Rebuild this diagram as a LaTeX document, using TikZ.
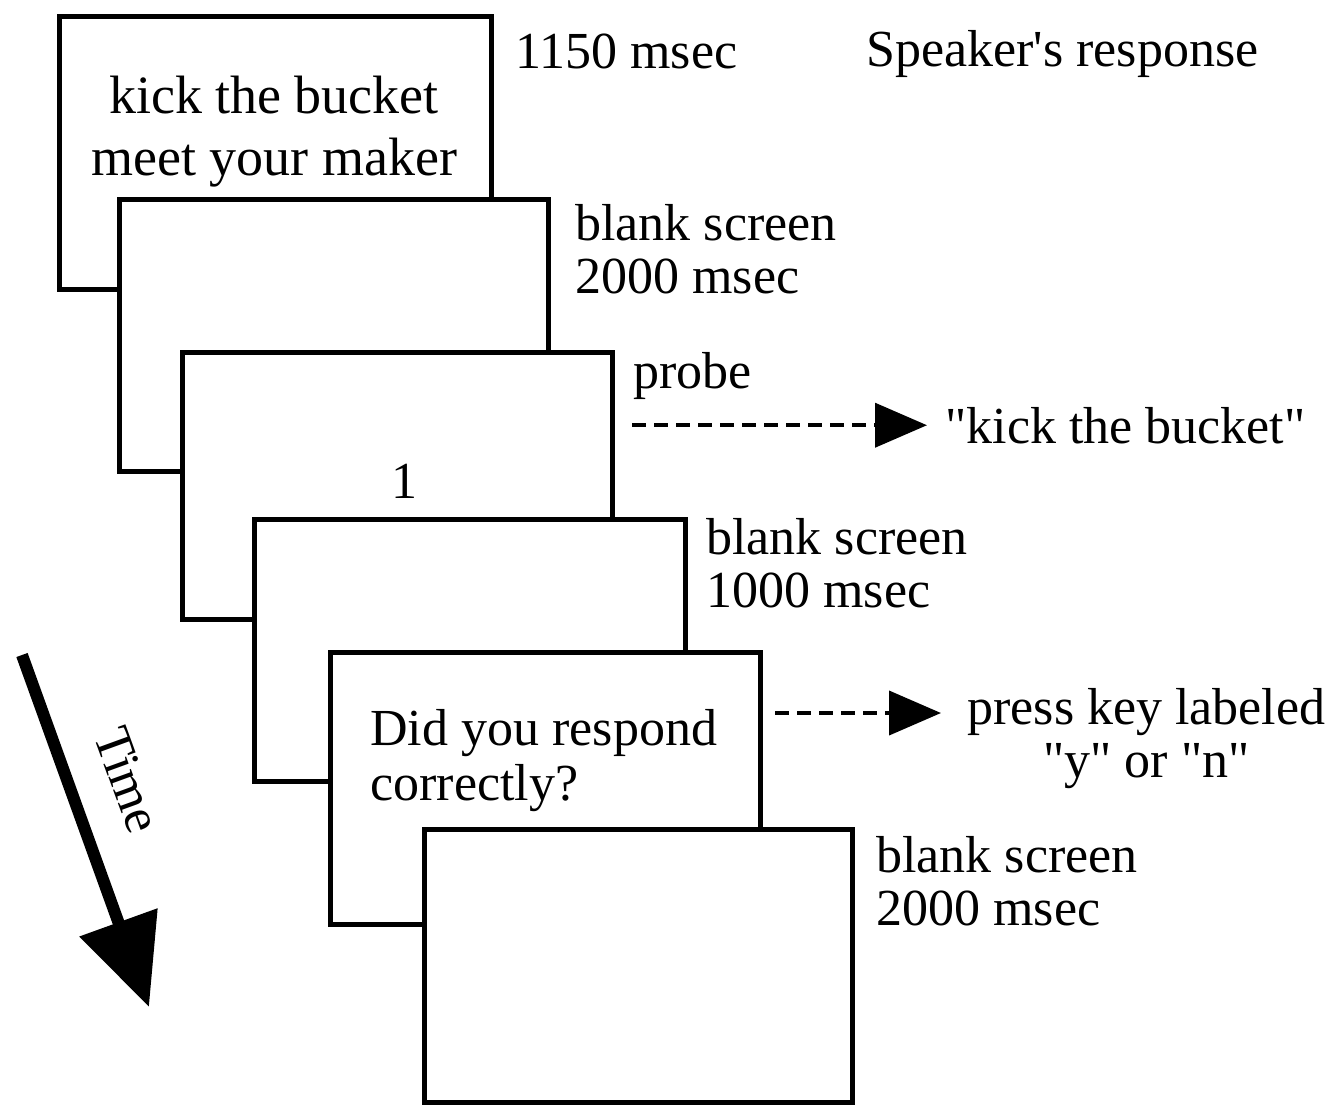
\documentclass[tikz,border=0pt]{standalone}
\usepackage{fontspec}
\setmainfont{Liberation Serif}[Ligatures=TeXOff]
\usetikzlibrary{arrows.meta,positioning}

\begin{document}
\begin{tikzpicture}[
  x=0.5pt, y=-0.5pt,
  every node/.style={font=\fontsize{26}{26.5}\selectfont, inner sep=0pt},
  screen/.style={draw, fill=white, line width=2.4pt, anchor=north west,
    minimum width=215pt, minimum height=136pt},
  lbl/.style={anchor=base west, align=left},
  resp/.style={line width=2pt, dash pattern=on 7pt off 4pt,
    -{Triangle[length=26pt,width=22pt]}},
  timearrow/.style={line width=6pt, -{Triangle[length=45pt,width=40pt]}}
]
\useasboundingbox (0,0) rectangle (1343,1105);

% the six screens, back to front
\node[screen, minimum width=216pt, minimum height=136.5pt] (cue) at (57.4,14.4) {};
\node[screen, minimum width=214.5pt] (blank1) at (117.4,197.4) {};
\node[screen, minimum height=133.5pt] (probe) at (180.4,350.4) {};
\node[screen, minimum width=215.5pt, minimum height=131pt] (blank2) at (252.4,517.4) {};
\node[screen] (query) at (328.4,650.4) {};
\node[screen, minimum width=214pt, minimum height=136.5pt] (blank3) at (422.4,827.4) {};

% screen contents
\node[align=center, font=\fontsize{27}{26.5}\selectfont] (cuetext) at (274,132) {kick the bucket\\[4.5pt]meet your maker};
\node (count) at (404,481) {1};
\node[lbl] (qtext) at (370,800) {Did you respond\\[1pt]correctly?};

% labels on the right
\node[lbl] (dur1) at (515,68) {1150 msec};
\node[lbl] (speaker) at (866,66) {Speaker's response};
\node[lbl] (dur2) at (575,293) {blank screen\\2000 msec};
\node[lbl] (probelbl) at (633,388) {probe};
\node[lbl] (said) at (945,443) {"kick the bucket"};
\node[lbl] (dur3) at (706,607) {blank screen\\1000 msec};
\node[anchor=base west, align=center] (keys) at (967,777) {press key labeled\\"y" or "n"};
\node[lbl] (dur4) at (876,925) {blank screen\\2000 msec};

% responses
\coordinate (keyin) at (941,713);
\draw[resp, shorten <=8.5pt, shorten >=9pt] (probe.east |- said.west) -- (said.west);
\draw[resp, shorten <=6pt] (query.east |- keyin) -- (keyin);

% time axis
\coordinate (t0) at (22,655);
\coordinate (t1) at (149,1007);
\draw[timearrow] (t0) -- (t1);
\node[rotate=-70] (time) at (128,780) {Time};
\end{tikzpicture}
\end{document}
